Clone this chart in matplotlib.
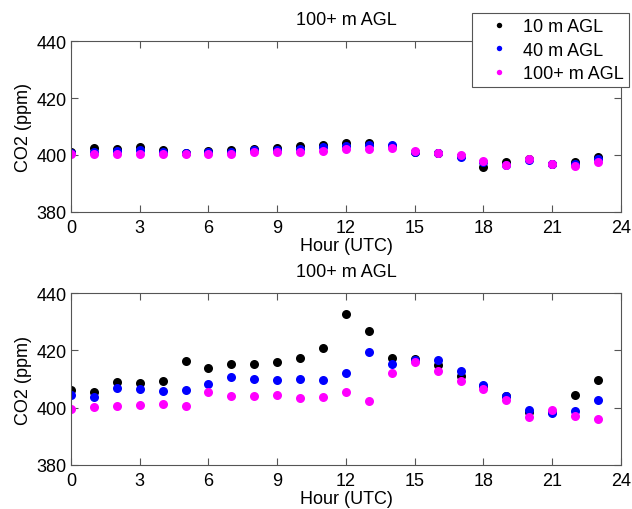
import matplotlib
matplotlib.use("Agg")
import matplotlib.pyplot as plt

hours = list(range(24))

# Top panel
top_10m = [401.2, 402.3, 402.2, 402.8, 401.8, 400.8, 401.3, 401.6, 402.2, 402.3, 403.0, 403.5,
           404.1, 404.2, 403.2, 401.0, 400.6, 399.5, 395.8, 397.4, 398.6, 397.0, 397.6, 399.4]
top_40m = [400.7, 401.2, 401.3, 401.7, 401.2, 400.6, 401.0, 401.1, 401.6, 401.6, 402.2, 402.7,
           403.0, 403.4, 403.5, 400.9, 400.6, 399.3, 397.4, 396.4, 398.4, 397.0, 397.0, 398.5]
top_100m = [400.2, 400.4, 400.5, 400.5, 400.5, 400.3, 400.3, 400.5, 401.0, 401.0, 401.0, 401.5,
            402.0, 402.1, 402.3, 401.5, 400.7, 400.0, 398.0, 396.6, 398.6, 397.0, 396.1, 397.4]

# Bottom panel
bot_10m = [406.2, 405.6, 408.9, 408.7, 409.2, 416.2, 413.8, 415.2, 415.1, 415.9, 417.4, 420.9,
           432.6, 426.7, 417.2, 417.0, 414.9, 411.2, 407.4, 404.2, 398.4, 398.6, 404.4, 409.5]
bot_40m = [404.5, 403.7, 406.7, 406.5, 405.8, 406.2, 408.3, 410.6, 410.0, 409.8, 409.9, 409.8,
           412.1, 419.4, 415.1, 416.8, 416.8, 412.8, 407.8, 404.2, 399.1, 398.1, 398.9, 402.8]
bot_100m = [399.6, 400.2, 400.7, 401.0, 401.4, 400.6, 405.3, 404.2, 404.1, 404.5, 403.3, 403.7,
            405.6, 402.2, 412.2, 415.9, 412.7, 409.4, 406.4, 402.7, 396.6, 399.3, 397.2, 396.0]

labels = ["10 m AGL", "40 m AGL", "100+ m AGL"]
colors = ["#000000", "#0000ff", "#ff00ff"]
titles = ["100+ m AGL", "100+ m AGL"]
xticks = [0, 3, 6, 9, 12, 15, 18, 21, 24]
yticks = [380, 400, 420, 440]

plt.rcParams['font.family'] = ['Liberation Sans', 'DejaVu Sans']
fig = plt.figure(figsize=(6.32, 5.10), dpi=100)
ax1 = fig.add_axes([0.1123, 0.5824, 0.8703, 0.3352])
ax2 = fig.add_axes([0.1123, 0.0863, 0.8703, 0.3372])

spine_col = "#555555"
for ax, series, title in [(ax1, [top_10m, top_40m, top_100m], titles[0]),
                          (ax2, [bot_10m, bot_40m, bot_100m], titles[1])]:
    for vals, c, lab in zip(series, colors, labels):
        ax.plot(hours, vals, 'o', color=c, markersize=6.5, markeredgewidth=0, label=lab)
    ax.set_xlim(0, 24)
    ax.set_ylim(380, 440)
    ax.set_xticks(xticks)
    ax.set_yticks(yticks)
    ax.tick_params(direction='in', top=True, right=True, length=5, width=0.8,
                   color=spine_col, labelsize=13)
    ax.tick_params(axis='x', pad=5)
    ax.tick_params(axis='y', pad=3)
    for s in ax.spines.values():
        s.set_color(spine_col)
        s.set_linewidth(0.8)
    ax.set_xlabel("Hour (UTC)", fontsize=13, labelpad=1)
    ax.set_ylabel("CO2 (ppm)", fontsize=13, labelpad=3)
    ax.set_title(title, fontsize=13, pad=12)

leg = ax1.legend(loc='upper right', bbox_to_anchor=(629/632, 1 - 14/510),
                 bbox_transform=fig.transFigure, fontsize=13, markerscale=0.6,
                 frameon=True, fancybox=False, edgecolor=spine_col, framealpha=1,
                 handletextpad=0.1, borderpad=0.3, labelspacing=0.35, handlelength=2.4,
                 borderaxespad=0)
leg.get_frame().set_linewidth(0.8)

fig.savefig("out.png", dpi=100)
